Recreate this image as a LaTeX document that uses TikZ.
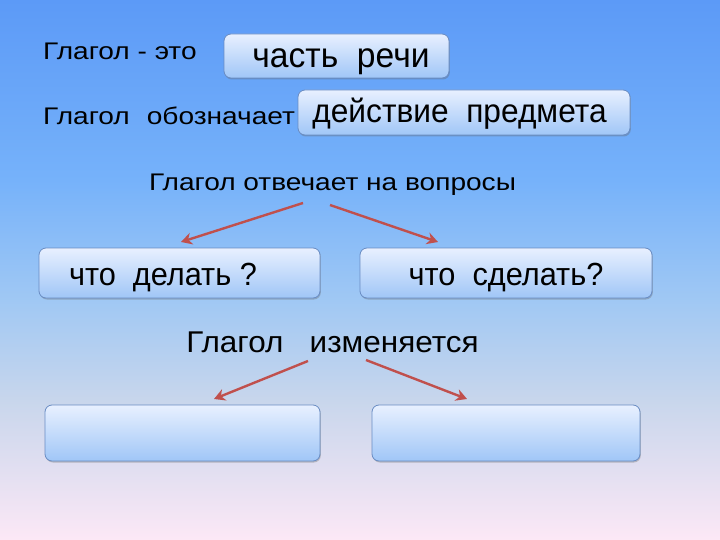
\documentclass[tikz,border=0pt]{standalone}
\usepackage{fontspec}
\setmainfont{Liberation Sans}
\newfontfamily\labelfont[FakeStretch=1.17]{Liberation Sans}
\newfontfamily\izfont[FakeStretch=1.05]{Liberation Sans}
\newfontfamily\boxfont[FakeStretch=0.96]{Liberation Sans}
\usetikzlibrary{arrows.meta,shadows}
\definecolor{c0}{RGB}{92,154,247}
\definecolor{c1}{RGB}{118,178,250}
\definecolor{c2}{RGB}{160,200,244}
\definecolor{c3}{RGB}{200,214,236}
\definecolor{c4}{RGB}{252,232,246}
\definecolor{boxtop}{RGB}{232,240,255}
\definecolor{boxbot}{RGB}{160,198,247}
\definecolor{boxline}{RGB}{105,140,195}
\definecolor{arr}{RGB}{192,80,77}
\tikzset{
  box/.style={draw=boxline, line width=0.8pt, rounded corners=7pt, top color=boxtop, bottom color=boxbot,
    drop shadow={shadow xshift=0.8pt, shadow yshift=-1.5pt, opacity=0.35, fill=black!60},
    minimum height=#1, inner sep=0pt, text depth=0pt, text height=24pt},
  lbl/.style={inner sep=0pt, text=black},
  arrline/.style={draw=arr, line width=2.4pt, -{Stealth[length=11pt,width=12pt]}}
}
\begin{document}
\begin{tikzpicture}[x=1pt,y=-1pt]
\useasboundingbox (0,0) rectangle (720,540);
\shade[top color=c0,bottom color=c1] (0,0) rectangle (720,180.5);
\shade[top color=c1,bottom color=c2] (0,180) rectangle (720,300.5);
\shade[top color=c2,bottom color=c3] (0,300) rectangle (720,400.5);
\shade[top color=c3,bottom color=c4] (0,400) rectangle (720,540);

\node[lbl, anchor=base west, font=\labelfont\fontsize{24}{26}\selectfont] (t1) at (43,60) {Глагол - это};
\node[lbl, anchor=base west, font=\labelfont\fontsize{24}{26}\selectfont] (t2) at (43,125) {Глагол\hspace{17pt}обозначает};

\node[box=44pt, minimum width=225pt, font=\boxfont\fontsize{35}{37}\selectfont] (b1) at (336.5,56) {\hspace*{9pt}часть\ \ речи};
\node[box=45pt, minimum width=332pt, text height=21pt, font=\boxfont\fontsize{33}{35}\selectfont] (b2) at (464,112.5) {действие\ \ предмета\hspace*{9pt}};

\node[lbl, anchor=base, font=\labelfont\fontsize{24}{26}\selectfont] (q) at (332.5,191) {Глагол отвечает на вопросы};

\node[box=50pt, minimum width=281pt, font=\boxfont\fontsize{32}{34}\selectfont] (b3) at (179.5,273) {что\ \ делать ?\hspace*{33pt}};
\node[box=50pt, minimum width=292pt, font=\boxfont\fontsize{32}{34}\selectfont] (b4) at (506,273) {что\ \ сделать?};

\node[lbl, anchor=base, font=\izfont\fontsize{30}{32}\selectfont] (iz) at (332.5,352) {Глагол\ \ \ изменяется};

\node[box=56pt, minimum width=275pt] (b5) at (182.5,433) {};
\node[box=56pt, minimum width=268pt] (b6) at (506,433) {};

\coordinate (a1s) at (303,203);
\coordinate (a1e) at (181,242);
\coordinate (a2s) at (330,205);
\coordinate (a2e) at (438,242);
\coordinate (a3s) at (308,361);
\coordinate (a3e) at (214,399);
\coordinate (a4s) at (366,360);
\coordinate (a4e) at (467,399);
\draw[arrline] (a1s) -- (a1e);
\draw[arrline] (a2s) -- (a2e);
\draw[arrline] (a3s) -- (a3e);
\draw[arrline] (a4s) -- (a4e);
\end{tikzpicture}
\end{document}
